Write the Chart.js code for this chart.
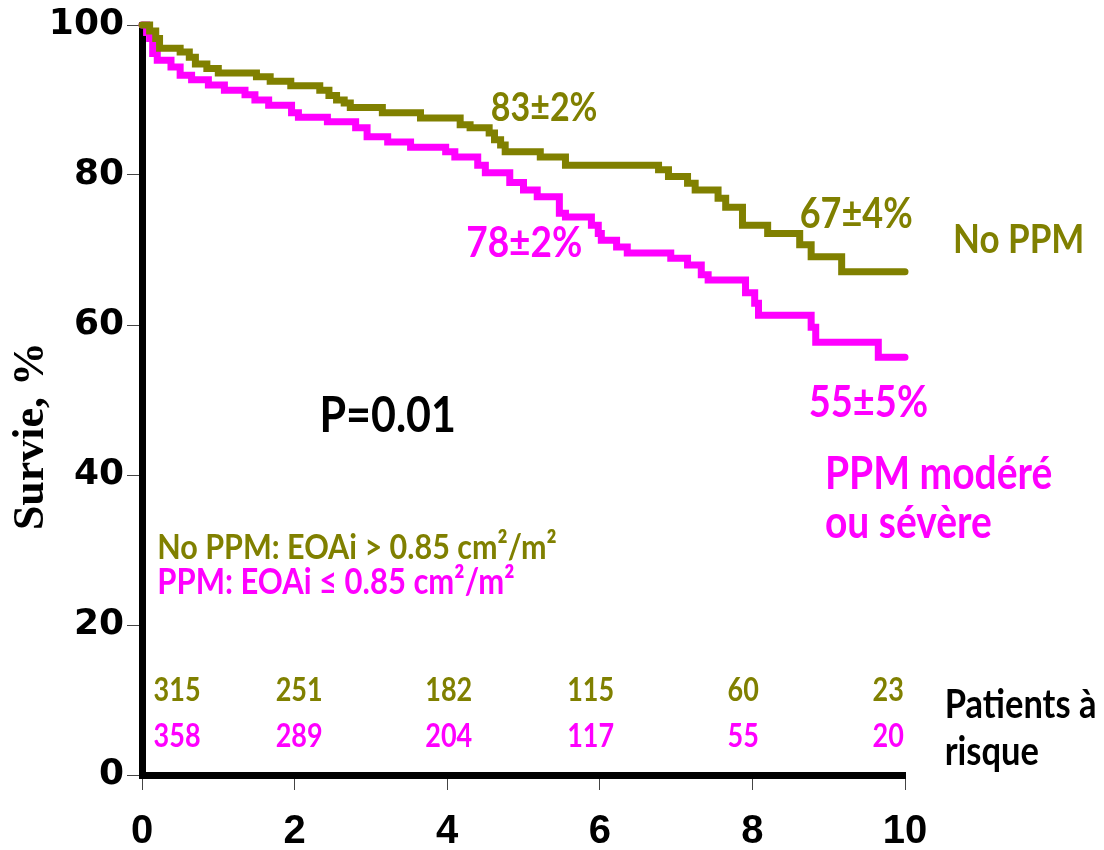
<!DOCTYPE html>
<html>
<head>
<meta charset="utf-8">
<script src="https://cdn.jsdelivr.net/npm/chart.js@4.4.1/dist/chart.umd.min.js"></script>
<style>
  html, body { margin: 0; padding: 0; background: #ffffff; }
  #wrap { position: relative; width: 1104px; height: 850px; }
</style>
</head>
<body>
<div id="wrap"><canvas id="c" width="1104" height="850"></canvas></div>
<script>
// ---- Data ----
const xTickValues = [0, 2, 4, 6, 8, 10];
const yTickValues = [0, 20, 40, 60, 80, 100];

// No PPM (olive): time in years, survival %
const noPpmTimes = [0, 0.1, 0.18, 0.23, 0.5, 0.62, 0.7, 0.85, 1.0, 1.5, 1.68, 1.95, 2.33, 2.45, 2.55, 2.65, 2.73, 3.15, 3.65, 4.17, 4.3, 4.55, 4.62, 4.7, 4.76, 5.22, 5.55, 6.77, 6.9, 7.15, 7.25, 7.55, 7.65, 7.87, 8.2, 8.62, 8.77, 9.17, 10];
const noPpmSurv  = [100, 99.2, 98.2, 96.9, 96.4, 95.7, 94.8, 94.2, 93.6, 93.1, 92.5, 91.9, 91.3, 90.6, 90.0, 89.6, 89.0, 88.3, 87.6, 86.7, 86.3, 85.6, 84.7, 84.0, 83.1, 82.4, 81.3, 80.7, 79.8, 78.9, 78.0, 76.9, 75.7, 73.3, 72.2, 70.7, 69.1, 67.1, 67.1];

// PPM moderate or severe (magenta)
const ppmTimes = [0, 0.06, 0.1, 0.14, 0.2, 0.38, 0.5, 0.65, 0.87, 1.08, 1.35, 1.48, 1.66, 1.96, 2.05, 2.43, 2.8, 2.95, 3.22, 3.52, 3.98, 4.1, 4.4, 4.5, 4.82, 5.0, 5.18, 5.47, 5.55, 5.89, 5.98, 6.02, 6.22, 6.36, 6.93, 7.15, 7.33, 7.42, 7.91, 8.03, 8.08, 8.77, 8.83, 9.65, 10];
const ppmSurv  = [100, 99.0, 98.2, 96.2, 95.3, 94.4, 93.3, 92.7, 92.0, 91.3, 90.7, 90.0, 89.3, 88.3, 87.7, 87.1, 86.3, 85.1, 84.4, 83.7, 83.1, 82.4, 81.3, 80.3, 79.0, 78.0, 77.1, 74.9, 74.4, 73.3, 72.2, 71.3, 70.4, 69.6, 68.9, 68.0, 66.7, 66.0, 64.3, 62.9, 61.3, 59.7, 57.7, 55.7, 55.7];

// Numbers at risk
const riskYears   = [0, 2, 4, 6, 8, 10];
const riskNoPpm   = ['315', '251', '182', '115', '60', '23'];
const riskPpm     = ['358', '289', '204', '117', '55', '20'];

// ---- Styling ----
const OLIVE = '#808000';
const MAGENTA = '#ff00ff';
const TXT_FONT = 'Lato, "Open Sans", "Noto Sans", sans-serif';
const STRETCH = 1.15; // vertical stretch of the reference's text

// label layout (positions in data units, not data)
const riskLabelX = [0.46, 2.06, 4.02, 5.88, 7.88, 9.78];
const annotations = [
  { text: '83±2%', x: 5.27, y: 88.9, color: OLIVE, size: 34, align: 'center' },
  { text: '67±4%', x: 9.36, y: 74.7, color: OLIVE, size: 36, align: 'center' },
  { text: 'No PPM', x: 11.49, y: 71.3, color: OLIVE, size: 35, align: 'center' },
  { text: '78±2%', x: 5.01, y: 70.9, color: MAGENTA, size: 37, align: 'center' },
  { text: '55±5%', x: 9.52, y: 49.6, color: MAGENTA, size: 38, align: 'center' },
  { text: 'PPM modéré', x: 8.95, y: 40.0, color: MAGENTA, size: 39, align: 'left' },
  { text: 'ou sévère', x: 8.95, y: 33.5, color: MAGENTA, size: 39, align: 'left' },
  { text: 'P=0.01', x: 3.22, y: 47.9, color: '#000000', size: 43, align: 'center' },
  { text: 'No PPM: EOAi > 0.85 cm²/m²', x: 0.2, y: 30.3, color: OLIVE, size: 30.5, align: 'left' },
  { text: 'PPM: EOAi ≤ 0.85 cm²/m²', x: 0.2, y: 25.7, color: MAGENTA, size: 31, align: 'left' },
  { text: 'Patients à', x: 10.52, y: 9.33, color: '#000000', size: 34.5, align: 'left' },
  { text: 'risque', x: 10.52, y: 3.07, color: '#000000', size: 34.5, align: 'left' }
];
const riskRowY = { noPpm: 11.3, ppm: 5.1 };

function pts(ts, vs) { return ts.map((t, i) => ({ x: t, y: vs[i] })); }

const textPlugin = {
  id: 'texts',
  afterDraw(chart) {
    const ctx = chart.ctx;
    const xs = chart.scales.x, ys = chart.scales.y;
    function draw(text, x, y, color, size, align, stretch, font, weight) {
      ctx.save();
      ctx.translate(x, y);
      ctx.scale(1, stretch);
      ctx.font = (weight || 'bold') + ' ' + size + 'px ' + (font || TXT_FONT);
      ctx.fillStyle = color;
      ctx.textAlign = align;
      ctx.textBaseline = 'middle';
      ctx.fillText(text, 0, 0);
      ctx.restore();
    }
    annotations.forEach(a => draw(a.text, xs.getPixelForValue(a.x), ys.getPixelForValue(a.y), a.color, a.size, a.align, STRETCH));
    riskYears.forEach((yr, i) => {
      draw(riskNoPpm[i], xs.getPixelForValue(riskLabelX[i]), ys.getPixelForValue(riskRowY.noPpm), OLIVE, 27, 'center', 1.22);
      draw(riskPpm[i], xs.getPixelForValue(riskLabelX[i]), ys.getPixelForValue(riskRowY.ppm), MAGENTA, 27, 'center', 1.22);
    });
    // y-axis title (rotated)
    ctx.save();
    ctx.translate(xs.getPixelForValue(-1.44), ys.getPixelForValue(45.2));
    ctx.rotate(-Math.PI / 2);
    ctx.font = 'bold 44px "Liberation Serif", "DejaVu Serif", serif';
    ctx.fillStyle = '#000000';
    ctx.textAlign = 'center';
    ctx.textBaseline = 'middle';
    ctx.fillText('Survie, %', 0, 0);
    ctx.restore();
  }
};

new Chart(document.getElementById('c'), {
  type: 'line',
  data: {
    datasets: [
      { label: 'No PPM', data: pts(noPpmTimes, noPpmSurv), borderColor: OLIVE, borderWidth: 7, stepped: 'before', pointRadius: 0, fill: false, clip: false, borderCapStyle: 'round' },
      { label: 'PPM modéré ou sévère', data: pts(ppmTimes, ppmSurv), borderColor: MAGENTA, borderWidth: 7, stepped: 'before', pointRadius: 0, fill: false, clip: false, borderCapStyle: 'round' }
    ]
  },
  options: {
    responsive: false,
    animation: false,
    layout: { padding: { top: 25, right: 199, left: 0, bottom: 0 } },
    plugins: { legend: { display: false }, tooltip: { enabled: false } },
    scales: {
      x: {
        type: 'linear', min: 0, max: 10,
        afterBuildTicks(s) { s.ticks = xTickValues.map(v => ({ value: v })); },
        afterFit(s) { s.height = 75; },
        ticks: { color: '#000', font: { family: '"Liberation Sans", Arial, sans-serif', weight: 'bold', size: 40 }, padding: 18, maxRotation: 0 },
        grid: { drawOnChartArea: false, drawTicks: true, tickLength: 15, color: '#444', lineWidth: 1 },
        border: { display: true, color: '#000', width: 7 }
      },
      y: {
        min: 0, max: 100,
        afterBuildTicks(s) { s.ticks = yTickValues.map(v => ({ value: v })); },
        afterFit(s) { s.width = 142; },
        ticks: { color: '#000', font: { family: '"DejaVu Sans", Verdana, sans-serif', weight: 'bold', size: 36 }, padding: 3 },
        grid: { drawOnChartArea: false, drawTicks: true, tickLength: 15, color: '#444', lineWidth: 1 },
        border: { display: true, color: '#000', width: 7 }
      }
    }
  },
  plugins: [textPlugin]
});
</script>
</body>
</html>
